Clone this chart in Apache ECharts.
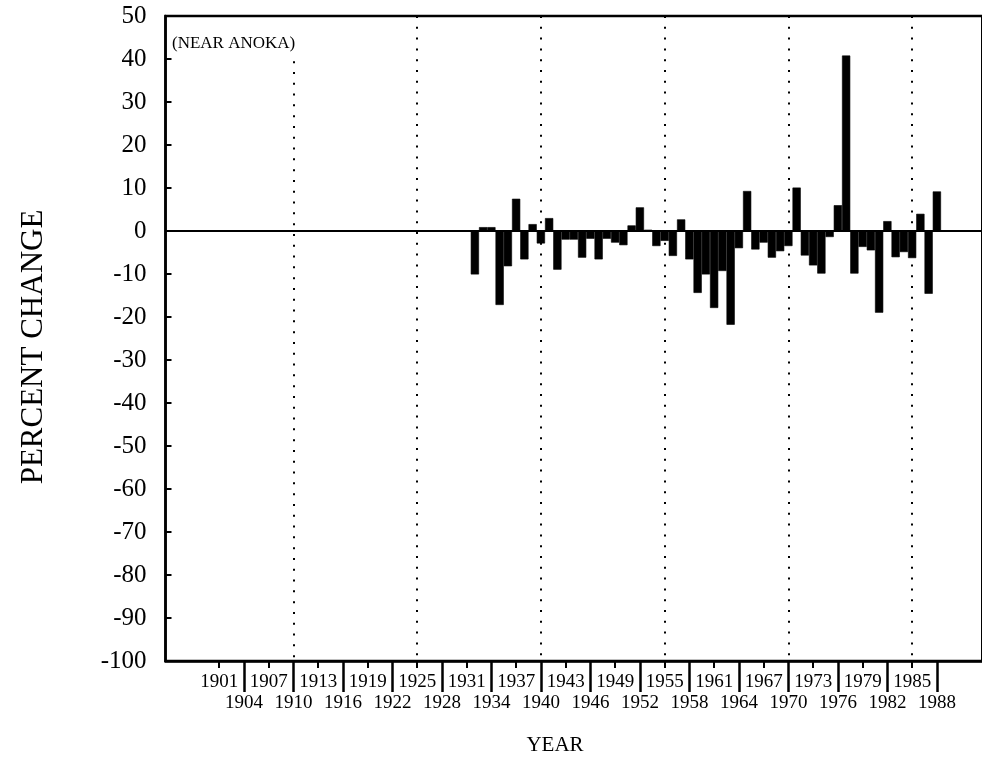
<!DOCTYPE html>
<html>
<head>
<meta charset="utf-8">
<script src="https://cdn.jsdelivr.net/npm/echarts@6/dist/echarts.min.js"></script>
<style>
  html, body { margin: 0; padding: 0; background: #fff; }
  #chart { width: 982px; height: 766px; }
</style>
</head>
<body>
<div id="chart"></div>
<script>
// Years spanned by the horizontal axis (one category per year)
const axisFirstYear = 1895;
const axisLastYear = 1993;

// Annual percent change, Mississippi River near Anoka, 1932-1988
const dataFirstYear = 1932;
const percentChange = [
  -10.1, 0.9, 0.9, -17.2, -8.2, 7.5, -6.6, 1.6, -2.9, 3.0,     // 1932-1941
  -9.0, -2.0, -2.0, -6.2, -1.8, -6.6, -1.8, -2.7, -3.3, 1.3,   // 1942-1951
  5.5, 0.3, -3.5, -2.3, -5.8, 2.7, -6.6, -14.4, -10.1, -17.9,  // 1952-1961
  -9.3, -21.8, -4.0, 9.3, -4.3, -2.7, -6.2, -4.7, -3.5, 10.1,  // 1962-1971
  -5.7, -8.0, -9.9, -1.4, 6.0, 40.8, -9.9, -3.7, -4.5, -19.0,  // 1972-1981
  2.3, -6.1, -4.9, -6.3, 4.0, -14.6, 9.2                       // 1982-1988
];

// Year labels: upper row (short ticks) and lower row (long ticks)
const upperLabelYears = [1901, 1907, 1913, 1919, 1925, 1931, 1937, 1943, 1949, 1955, 1961, 1967, 1973, 1979, 1985];
const lowerLabelYears = [1904, 1910, 1916, 1922, 1928, 1934, 1940, 1946, 1952, 1958, 1964, 1970, 1976, 1982, 1988];

// Dotted reference years
const dottedYears = [1910, 1925, 1940, 1955, 1970, 1985];

// Value axis range
const yMin = -100;
const yMax = 50;
const yStep = 10;

const years = [];
for (let y = axisFirstYear; y <= axisLastYear; y++) years.push(String(y));
const barData = years.map(function (y) {
  const i = Number(y) - dataFirstYear;
  return (i >= 0 && i < percentChange.length) ? percentChange[i] : '-';
});

const upperSet = new Set(upperLabelYears.map(String));
const lowerSet = new Set(lowerLabelYears.map(String));
const serif = '"Liberation Serif", "Times New Roman", serif';
const yearWidth = 8.25;

const dottedStyle = { type: [2, 8.8], width: 2, color: '#000', cap: 'butt' };
const refLines = [
  { yAxis: 0, lineStyle: { type: 'solid', width: 2, color: '#000' } }
];
dottedYears.forEach(function (y) {
  // the 1910 line stops below the station note
  const top = (y === 1910) ? 39.5 : yMax;
  refLines.push([
    { coord: [String(y), top], lineStyle: dottedStyle },
    { coord: [String(y), yMin] }
  ]);
});

function yearAxis(yearSet, tickLength, tickWidth, labelMargin, showLine) {
  return {
    type: 'category', data: years, boundaryGap: true, position: 'bottom',
    axisLine: { show: showLine, onZero: false, lineStyle: { color: '#000', width: 2.5 } },
    axisTick: {
      show: true, alignWithLabel: true, length: tickLength,
      interval: function (i, v) { return yearSet.has(v); },
      lineStyle: { color: '#000', width: tickWidth }
    },
    axisLabel: {
      show: true, color: '#000', fontFamily: serif, fontSize: 19, margin: labelMargin,
      hideOverlap: false, showMinLabel: true, showMaxLabel: true,
      interval: function (i, v) { return yearSet.has(v); }
    },
    splitLine: { show: false }
  };
}

const chart = echarts.init(document.getElementById('chart'), null, { renderer: 'canvas' });
chart.setOption({
  animation: false,
  backgroundColor: '#fff',
  grid: {
    left: 165.5, top: 16, width: years.length * yearWidth, height: 645,
    show: true, borderColor: '#000', borderWidth: 2.5, backgroundColor: 'transparent',
    containLabel: false, outerBoundsMode: 'none'
  },
  xAxis: [
    yearAxis(upperSet, 7, 2, 12, true),
    yearAxis(lowerSet, 31, 2.5, 32.5, false)
  ],
  yAxis: {
    type: 'value', min: yMin, max: yMax, interval: yStep,
    axisLine: { show: true, lineStyle: { color: '#000', width: 2.5 } },
    axisTick: { show: true, inside: true, length: 6, lineStyle: { color: '#000', width: 2 } },
    axisLabel: { color: '#000', fontFamily: serif, fontSize: 25, margin: 19 },
    splitLine: { show: false }
  },
  series: [{
    type: 'bar',
    data: barData,
    xAxisIndex: 0,
    barCategoryGap: '0%',
    barGap: '0%',
    itemStyle: { color: '#000', borderColor: '#000', borderWidth: 0.6 },
    markLine: {
      silent: true, symbol: ['none', 'none'], label: { show: false }, animation: false,
      data: refLines
    }
  }],
  graphic: [
    {
      type: 'text', x: 172, y: 44,
      style: { text: '(NEAR ANOKA)', fontFamily: 'Liberation Serif', fontSize: 17, fill: '#000', align: 'left', verticalAlign: 'middle' }
    },
    {
      type: 'text', x: 34, y: 347, rotation: Math.PI / 2,
      style: { text: 'PERCENT CHANGE', fontFamily: 'Liberation Serif', fontSize: 31, fill: '#000', align: 'center', verticalAlign: 'middle' }
    },
    {
      type: 'text', x: 555, y: 745,
      style: { text: 'YEAR', fontFamily: 'Liberation Serif', fontSize: 21, fill: '#000', align: 'center', verticalAlign: 'middle' }
    }
  ]
});
</script>
</body>
</html>
